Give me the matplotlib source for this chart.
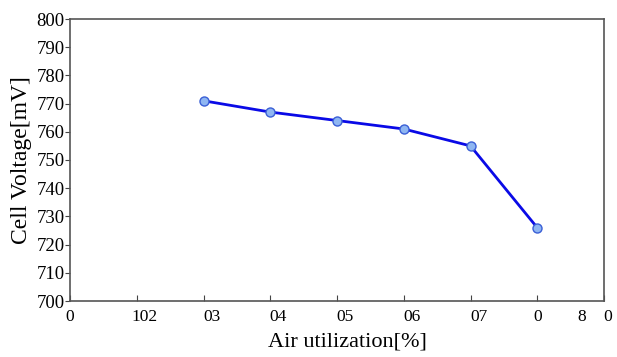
import matplotlib
matplotlib.use("Agg")
import matplotlib.pyplot as plt
import matplotlib.transforms as mtransforms

# Measured cell voltage versus air utilization
utilization = [20, 30, 40, 50, 60, 70]
voltage_mv = [771, 767, 764, 761, 755, 726]

x_ticks = [0, 10, 20, 30, 40, 50, 60, 70, 80]
x_tick_labels = ["0", "102", "03", "04", "05", "06", "07", "0", "8    0"]
y_ticks = [700, 710, 720, 730, 740, 750, 760, 770, 780, 790, 800]

plt.rcParams["font.family"] = ["Liberation Serif", "DejaVu Serif"]

fig = plt.figure(figsize=(6.17, 3.57), dpi=100)
ax = fig.add_axes([70 / 617, 1 - 301 / 357, (604 - 70) / 617, (301 - 19) / 357])

ax.plot(utilization, voltage_mv, color="#0a0ae6", linewidth=2,
        marker="o", markersize=6.5, markerfacecolor="#8fb6f2",
        markeredgecolor="#3a5fd6", markeredgewidth=1)

ax.set_xlim(0, 80)
ax.set_ylim(700, 800)
ax.set_xticks(x_ticks)
ax.set_xticklabels(x_tick_labels)
ax.set_yticks(y_ticks)

ax.tick_params(axis="x", direction="in", length=4, labelsize=12.5, pad=6,
               color="#444444")
ax.tick_params(axis="y", direction="out", length=3.5, labelsize=13.5, pad=0.5,
               color="#444444")

# shift the middle labels slightly to the right, the last one to the left
for i, lab in enumerate(ax.get_xticklabels()):
    if 1 <= i <= 6:
        dx = 8 / 100
    elif i == 8:
        dx = -9 / 100
    else:
        dx = 0
    lab.set_transform(lab.get_transform() +
                      mtransforms.ScaledTranslation(dx, 0, fig.dpi_scale_trans))

for s in ax.spines.values():
    s.set_color("#555555")
    s.set_linewidth(1.2)

ax.set_xlabel("Air utilization[%]", fontsize=16, labelpad=2)
ax.xaxis.set_label_coords(0.52, -0.11)
ax.set_ylabel("Cell Voltage[mV]", fontsize=17, labelpad=3)

fig.savefig("out.png", dpi=100)
